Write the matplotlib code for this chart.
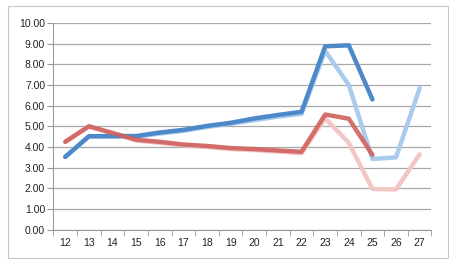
import numpy as np
import matplotlib.pyplot as plt
from matplotlib.patches import Rectangle

# categorias e series
anos = [12, 13, 14, 15, 16, 17, 18, 19, 20, 21, 22, 23, 24, 25, 26, 27]
azul_escuro = [3.52, 4.52, 4.53, 4.53, 4.70, 4.83, 5.02, 5.17, 5.38, 5.55, 5.70, 8.87, 8.92, 6.30]
azul_claro = [3.52, 4.50, 4.50, 4.50, 4.65, 4.78, 4.97, 5.12, 5.30, 5.47, 5.60, 8.65, 7.00, 3.42, 3.50, 6.85]
verm_escuro = [4.25, 5.00, 4.68, 4.35, 4.25, 4.12, 4.05, 3.95, 3.90, 3.83, 3.77, 5.57, 5.37, 3.62]
verm_claro = [4.25, 5.00, 4.66, 4.32, 4.20, 4.08, 4.00, 3.90, 3.85, 3.78, 3.70, 5.40, 4.20, 1.97, 1.95, 3.65]
y_ticks = np.arange(0, 10.01, 1.0)

plt.rcParams['font.family'] = ['Liberation Sans', 'DejaVu Sans']

fig = plt.figure(figsize=(4.49, 2.64), dpi=100)
fig.patches.append(Rectangle((8/449, 6/264), 440/449, 252/264, transform=fig.transFigure,
                             fill=False, edgecolor='#c8c8c8', lw=0.8))
ax = fig.add_axes([0.119, 0.130, 0.842, 0.783])

x = np.arange(len(anos))
ax.plot(x, azul_claro, color='#a9cbee', lw=3.2, solid_capstyle='round', zorder=3)
ax.plot(x, verm_claro, color='#f2c6c4', lw=3.2, solid_capstyle='round', zorder=3)
ax.plot(x[:len(azul_escuro)], azul_escuro, color='#4d88c9', lw=3.2, solid_capstyle='round', zorder=4)
ax.plot(x[:len(verm_escuro)], verm_escuro, color='#d0625e', lw=3.2, solid_capstyle='round', zorder=4, alpha=0.9)

ax.set_xlim(-0.5, len(anos) - 0.5)
ax.set_ylim(0, 10)
ax.set_yticks(y_ticks)
ax.set_yticklabels(['%.2f' % v for v in y_ticks])
ax.set_xticks(x)
ax.set_xticklabels([str(a) for a in anos])
ax.set_xticks(np.arange(-0.5, len(anos)), minor=True)
ax.tick_params(axis='x', which='major', length=0, pad=6, labelsize=7.5, colors='#222222')
ax.tick_params(axis='x', which='minor', length=4, color='#999999')
ax.tick_params(axis='y', length=4, color='#999999', labelsize=7.5, labelcolor='#222222', pad=2)

ax.grid(axis='y', color='#a8a8a8', lw=0.9)
ax.set_axisbelow(True)
for s in ['top', 'right']:
    ax.spines[s].set_visible(False)
ax.spines['left'].set_color('#999999')
ax.spines['bottom'].set_color('#999999')

plt.savefig('out.png', dpi=100)
